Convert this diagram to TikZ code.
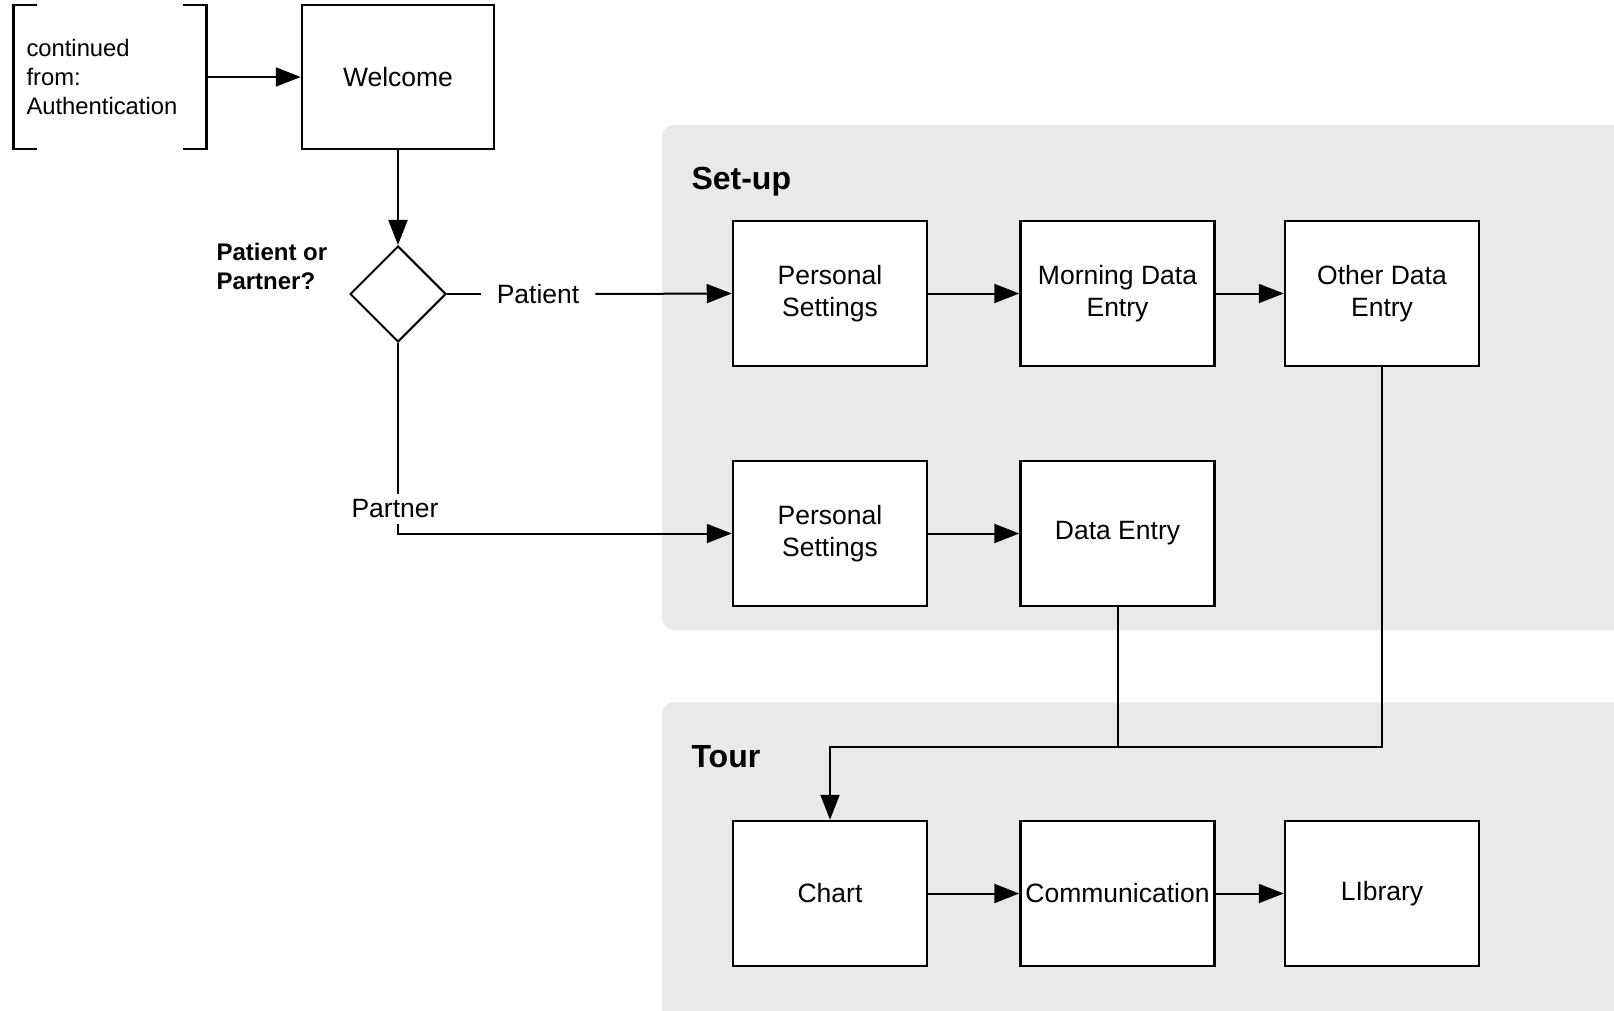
\documentclass[tikz,border=0pt]{standalone}
\usepackage{fontspec}
\setmainfont{Liberation Sans}
\usetikzlibrary{shapes.geometric,arrows.meta}
\definecolor{groupgray}{HTML}{E9E9E9}
\tikzset{
  boxnode/.style={draw, fill=white, line width=2.5pt, minimum width=194pt, minimum height=145pt, inner sep=0pt, align=center, font=\fontsize{26.5}{32}\selectfont},
  conn/.style={line width=2pt},
  arr/.style={conn, -{Triangle[length=25pt,width=19pt]}},
  grouprect/.style={fill=groupgray, rounded corners=12pt},
  grouptitle/.style={anchor=west, font=\bfseries\fontsize{32}{38}\selectfont},
  lbl/.style={font=\fontsize{26.5}{32}\selectfont}
}
\begin{document}
\begin{tikzpicture}[x=1pt,y=-1pt]
\useasboundingbox (0,0) rectangle (1614,1011);
\clip (0,0) rectangle (1614,1011);
% groups
\path[grouprect] (662,125) rectangle (1660,630);
\path[grouprect] (662,702) rectangle (1660,1060);
\node[grouptitle] (setup) at (688,182) {Set-up};
\node[grouptitle] (tour) at (688,757) {Tour};
% continued from
\node[minimum width=193pt, minimum height=144pt, inner xsep=13pt, inner ysep=0pt, text width=167pt, align=left, font=\fontsize{23.8}{29}\selectfont] (cont) at (110,77) {continued\\from:\\Authentication};
\draw[line width=2.5pt] ([xshift=24pt]cont.north west) -- (cont.north west) -- (cont.south west) -- ([xshift=24pt]cont.south west);
\draw[line width=2.5pt] ([xshift=-24pt]cont.north east) -- (cont.north east) -- (cont.south east) -- ([xshift=-24pt]cont.south east);
% nodes
\node[boxnode, minimum width=192pt, minimum height=144pt] (welcome) at (398,77) {Welcome};
\node[draw, diamond, fill=white, line width=2pt, minimum width=96pt, minimum height=96pt, inner sep=0pt] (dia) at (398,294) {};
\node[anchor=west, align=left, font=\bfseries\fontsize{24}{29}\selectfont] (q) at (213,266) {Patient or\\Partner?};
\node[boxnode] (ps1) at (830,293.5) {Personal\\Settings};
\node[boxnode] (mde) at (1117.5,293.5) {Morning Data\\Entry};
\node[boxnode] (ode) at (1382,293.5) {Other Data\\Entry};
\node[boxnode] (ps2) at (830,533.5) {Personal\\Settings};
\node[boxnode] (de) at (1117.5,533.5) {Data Entry};
\node[boxnode] (chart) at (830,893.5) {Chart};
\node[boxnode] (comm) at (1117.5,893.5) {Communication};
\node[boxnode] (lib) at (1382,893.5) {LIbrary};
% labels
\node[lbl, inner xsep=16pt, inner ysep=0pt] (patlbl) at (538,294) {Patient};
\node[lbl, inner xsep=0pt, inner ysep=6pt] (partlbl) at (395,509) {Partner};
\coordinate (bend) at (830,747);
% connectors
\draw[arr] (cont.east) -- (welcome.west);
\draw[arr] (welcome.south) -- (dia.north);
\draw[conn] (dia.east) -- (patlbl.west);
\draw[arr] (patlbl.east) -- (ps1.west);
\draw[conn] (dia.south) -- (dia.south |- partlbl.north);
\draw[arr] (dia.south |- partlbl.south) |- (ps2.west);
\draw[arr] (ps1) -- (mde);
\draw[arr] (mde) -- (ode);
\draw[arr] (ps2) -- (de);
\draw[arr] (ode.south) |- (bend) -- (chart.north);
\draw[conn] (de.south) -- (de.south |- bend);
\draw[arr] (chart) -- (comm);
\draw[arr] (comm) -- (lib);
\end{tikzpicture}
\end{document}
